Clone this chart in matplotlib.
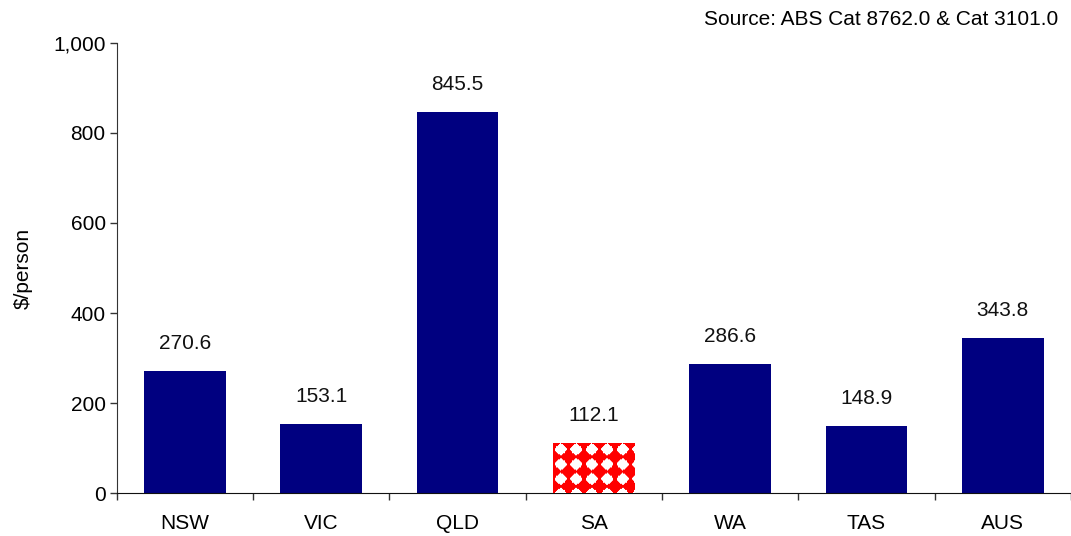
import numpy as np
import matplotlib
matplotlib.use("Agg")
import matplotlib.pyplot as plt
from matplotlib.ticker import FuncFormatter

# data
states = ["NSW", "VIC", "QLD", "SA", "WA", "TAS", "AUS"]
values = [270.6, 153.1, 845.5, 112.1, 286.6, 148.9, 343.8]
highlight = "SA"

plt.rcParams['font.family'] = ['Liberation Sans', 'DejaVu Sans']
fs = 15

fig = plt.figure(figsize=(10.71, 5.36), dpi=100)
ax = fig.add_axes([0.109, 0.080, 0.891, 0.840])

x = np.arange(len(states))
colors = ["#000080" if s != highlight else "#FF0000" for s in states]
bars = ax.bar(x, values, width=0.6, color=colors, zorder=2)

# white diamond texture on the highlighted bar
for b, s in zip(bars, states):
    if s != highlight:
        continue
    w, h = 82, 50
    px, py = 15.5, 14.5
    xx, yy = np.meshgrid(np.arange(w) + 0.5, np.arange(h) + 0.5)
    u = (xx / px) % 1 - 0.5
    v = (yy / py) % 1 - 0.5
    d = 0.6 * (np.abs(u) + np.abs(v)) + 0.4 * np.sqrt(u**2 + v**2) * 1.2
    mask = d < 0.44
    img = np.ones((h, w, 3))
    img[~mask] = [1.0, 0.0, 0.0]
    x0 = b.get_x()
    im = ax.imshow(img, extent=(x0, x0 + b.get_width(), 0, b.get_height()),
                   aspect='auto', interpolation='bilinear', zorder=3)
    im.set_clip_path(b)

for xi, v in zip(x, values):
    ax.annotate(f"{v:.1f}", (xi, v), xytext=(0, 13), textcoords="offset points",
                ha="center", va="bottom", fontsize=fs, color="#111111")

ax.set_xlim(-0.5, len(states) - 0.5)
ax.set_ylim(0, 1000)
ax.set_yticks([0, 200, 400, 600, 800, 1000])
ax.yaxis.set_major_formatter(FuncFormatter(lambda v, p: f"{v:,.0f}"))

ax.set_xticks(np.arange(len(states) + 1) - 0.5)
ax.set_xticklabels([])
ax.set_xticks(x, minor=True)
ax.set_xticklabels(states, minor=True)
ax.tick_params(axis='x', which='major', direction='out', length=5, width=1, color="#333333")
ax.tick_params(axis='x', which='minor', length=0, pad=15, labelsize=fs)
ax.tick_params(axis='y', direction='out', length=5, width=1, color="#333333", pad=3, labelsize=fs)

for sp in ["top", "right"]:
    ax.spines[sp].set_visible(False)
ax.spines["left"].set_color("#333333")
ax.spines["bottom"].set_color("#111111")

ax.set_ylabel("$/person", fontsize=fs)
ax.yaxis.set_label_coords(-0.088, 0.5)

fig.text(0.988, 0.963, "Source: ABS Cat 8762.0 & Cat 3101.0", ha="right", va="center", fontsize=fs)

fig.savefig("out.png", dpi=100)
